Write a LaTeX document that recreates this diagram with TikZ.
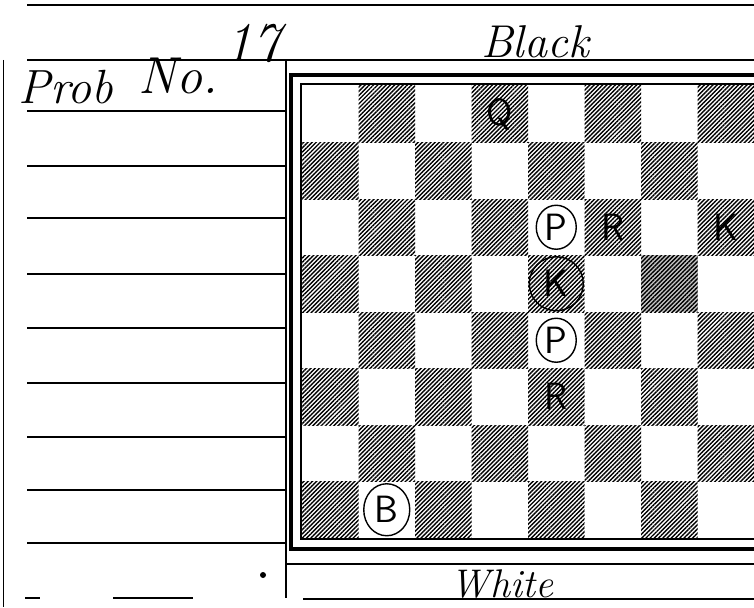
\documentclass[tikz,border=0pt]{standalone}
\usepackage{tikz}
\usetikzlibrary{shapes.geometric,patterns.meta}

\begin{document}
\begin{tikzpicture}[
    x=1pt, y=-1pt,
    rule/.style={line width=1.6pt},
    frame/.style={line width=3.6pt},
    inner frame/.style={line width=1.4pt},
    dark/.style={pattern={Lines[angle=45,distance=3pt,line width=1.4pt]}},
    piece/.style={font=\fontsize{38}{38}\selectfont\sffamily, inner sep=0pt},
    white piece/.style={piece, draw, ellipse, line width=1.4pt, minimum width=40pt, minimum height=44pt},
    hand/.style={font=\fontsize{46}{46}\selectfont\itshape, inner sep=0pt, anchor=base}
]
\useasboundingbox (0,0) rectangle (754,607);

% header and columns of the form
\draw[rule] (27,5) -- (754,5);
\draw[rule] (27,60) -- (754,60);
\draw[line width=0.8pt] (3,60) -- (3,607);
\draw[rule] (286,60) -- (286,598);
\foreach \y in {111,166,218,274,328,383,437,490,543}
  \draw[rule] (27,\y) -- (286,\y);
\draw[rule] (25,598) -- (40,598);
\draw[rule] (113,598) -- (193,598);
\draw[rule] (286,564) -- (754,564);
\draw[rule] (303,599) -- (754,599);
\fill (263,575) circle (3);

% board
\fill[black!22] (641,255) rectangle ++(56.5,56.5);
\foreach \col in {1,...,8}
  \foreach \row in {1,...,8} {
    \pgfmathparse{int(mod(\col+\row,2))}
    \ifnum\pgfmathresult=1
      \fill[dark] ({302+(\col-1)*56.5},{86+(\row-1)*56.5}) rectangle ++(56.5,56.5);
    \fi
  }
\draw[frame] (754,75) -- (291,75) -- (291,549) -- (754,549);
\draw[inner frame] (754,84) -- (301,84) -- (301,539) -- (754,539);

% pieces
\node[piece] (bq) at (499.75,114.25) {Q};
\node[white piece] (wp1) at (556.25,227.25) {P};
\node[piece] (br1) at (612.75,227.25) {R};
\node[piece] (bk) at (725.75,227.25) {K};
\node[white piece, minimum width=54pt, minimum height=54pt] (wk) at (556.25,283.75) {K};
\node[white piece] (wp2) at (556.25,340.25) {P};
\node[piece] (br2) at (556.25,396.75) {R};
\node[white piece, minimum width=46pt, minimum height=52pt] (wb) at (386.75,509.75) {B};

% handwriting
\node[hand, font=\fontsize{48}{48}\selectfont\itshape] (prob) at (66,104) {Prob};
\node[hand, font=\fontsize{52}{52}\selectfont\itshape] (no) at (178,94) {No.};
\node[hand, font=\fontsize{56}{56}\selectfont\itshape] (num) at (252,62) {17};
\node[hand] (black) at (535,58) {Black};
\node[hand, font=\fontsize{40}{40}\selectfont\itshape] (white) at (502,597) {White};
\end{tikzpicture}
\end{document}
